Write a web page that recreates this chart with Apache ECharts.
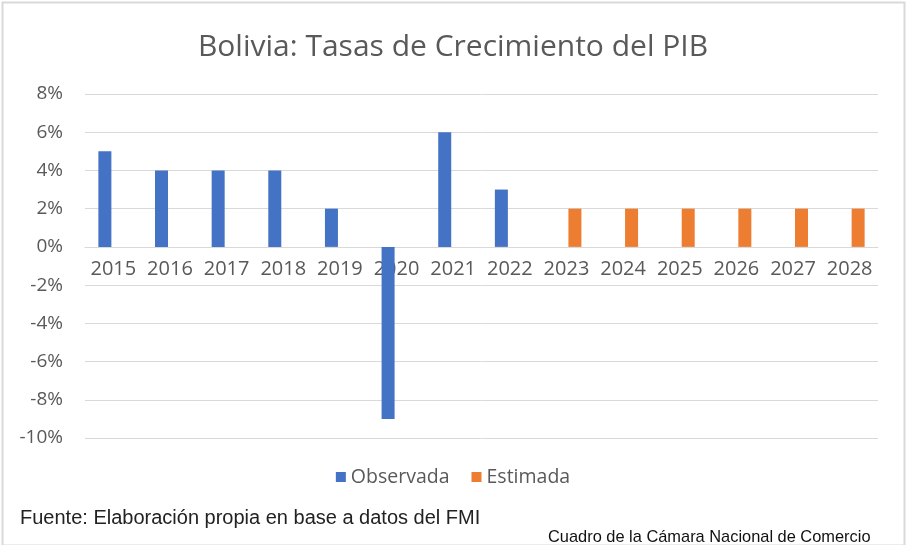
<!DOCTYPE html>
<html>
<head>
<meta charset="utf-8">
<script src="https://cdn.jsdelivr.net/npm/echarts@6/dist/echarts.min.js"></script>
<style>
html,body{margin:0;padding:0;background:#fff;}
#c{width:906px;height:545px;}
</style>
</head>
<body>
<div id="c"></div>
<script>
const categories = ['2015','2016','2017','2018','2019','2020','2021','2022','2023','2024','2025','2026','2027','2028'];
const observada = [5, 4, 4, 4, 2, -9, 6, 3, null, null, null, null, null, null];
const estimada = [null, null, null, null, null, null, null, null, 2, 2, 2, 2, 2, 2];
const seriesNames = ['Observada', 'Estimada'];
const titleText = 'Bolivia: Tasas de Crecimiento del PIB';
const sourceText = 'Fuente: Elaboración propia en base a datos del FMI';
const creditText = 'Cuadro de la Cámara Nacional de Comercio';

const chart = echarts.init(document.getElementById('c'));
const grey = '#595959';
const font = '"Open Sans", "Noto Sans", sans-serif';
chart.setOption({
  animation: false,
  graphic: [
    { type: 'rect', left: 0, top: 0, shape: { x: 1, y: 1, width: 902, height: 543 },
      style: { fill: 'none', stroke: '#d9d9d9', lineWidth: 2 }, silent: true },
    { type: 'text', left: 20, top: 508,
      style: { text: sourceText, fill: '#222', font: '20px "Liberation Sans", sans-serif' } },
    { type: 'text', left: 548, top: 529,
      style: { text: creditText, fill: '#111', font: '16.4px "Liberation Sans", sans-serif' } }
  ],
  title: {
    text: titleText, left: 'center', top: 27,
    textStyle: { color: grey, fontSize: 30, fontWeight: 'normal', fontFamily: font }
  },
  legend: {
    data: seriesNames, top: 462, left: 'center',
    itemWidth: 10, itemHeight: 10, itemGap: 22, icon: 'rect',
    textStyle: { color: grey, fontSize: 19.5, fontFamily: font }
  },
  grid: { left: 85, right: 28, top: 94, bottom: 107, containLabel: false },
  xAxis: {
    type: 'category', data: categories,
    offset: -191,
    axisLine: { onZero: false, lineStyle: { color: '#d9d9d9', width: 1 } },
    axisTick: { show: false },
    axisLabel: { color: grey, fontSize: 20, fontFamily: font, margin: 12, interval: 0 }
  },
  yAxis: {
    type: 'value', min: -10, max: 8, interval: 2,
    axisLine: { show: false }, axisTick: { show: false },
    axisLabel: { color: grey, fontSize: 19, fontFamily: font, margin: 22, formatter: '{value}%' },
    splitLine: { lineStyle: { color: '#d9d9d9', width: 1 } }
  },
  series: [
    { name: seriesNames[0], type: 'bar', data: observada, barWidth: 13, barGap: '30%',
      itemStyle: { color: '#4472c4' } },
    { name: seriesNames[1], type: 'bar', data: estimada, barWidth: 13, barGap: '30%',
      itemStyle: { color: '#ed7d31' } }
  ]
});
</script>
</body>
</html>
